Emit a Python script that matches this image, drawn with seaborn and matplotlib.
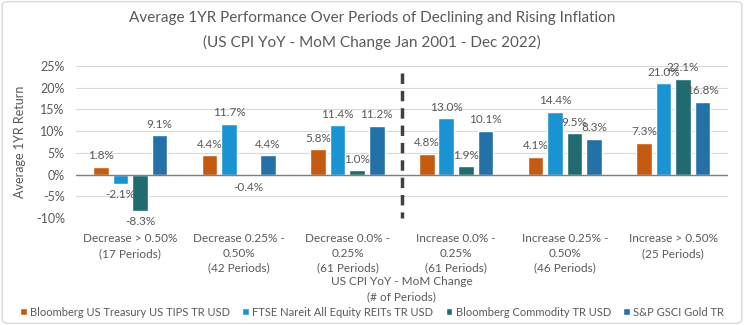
import matplotlib
matplotlib.use("Agg")
import matplotlib.pyplot as plt
import seaborn as sns
import pandas as pd
from matplotlib.patches import FancyBboxPatch

categories = [
    "Decrease > 0.50%\n(17 Periods)",
    "Decrease 0.25% -\n0.50%\n(42 Periods)",
    "Decrease 0.0% -\n0.25%\n(61 Periods)",
    "Increase 0.0% -\n0.25%\n(61 Periods)",
    "Increase 0.25% -\n0.50%\n(46 Periods)",
    "Increase > 0.50%\n(25 Periods)",
]
series_names = [
    "Bloomberg US Treasury US TIPS TR USD",
    "FTSE Nareit All Equity REITs TR USD",
    "Bloomberg Commodity TR USD",
    "S&P GSCI Gold TR",
]
tips = [1.8, 4.4, 5.8, 4.8, 4.1, 7.3]
reits = [-2.1, 11.7, 11.4, 13.0, 14.4, 21.0]
commodity = [-8.3, -0.4, 1.0, 1.9, 9.5, 22.1]
gold = [9.1, 4.4, 11.2, 10.1, 8.3, 16.8]
yticks = [-10, -5, 0, 5, 10, 15, 20, 25]
colors = ["#C55A11", "#1A93D3", "#1F6B70", "#2471A8"]

title = "Average 1YR Performance Over Periods of Declining and Rising Inflation"
subtitle = "(US CPI YoY - MoM Change Jan 2001 - Dec 2022)"
xlabel = "US CPI YoY - MoM Change\n(# of Periods)"
ylabel = "Average 1YR Return"

sns.set_theme(style="white")
plt.rcParams["font.family"] = ["Lato", "DejaVu Sans"]
grey = "#595959"

rows = []
for name, vals in zip(series_names, [tips, reits, commodity, gold]):
    for c, v in zip(categories, vals):
        rows.append({"cat": c, "series": name, "val": v})
df = pd.DataFrame(rows)

fig = plt.figure(figsize=(7.44, 3.25), dpi=100)
ax = fig.add_axes([0.102, 0.329, 0.876, 0.468])

sns.barplot(data=df, x="cat", y="val", hue="series", order=categories,
            hue_order=series_names, palette=colors, width=0.72, gap=0.2,
            ax=ax, legend=True, saturation=1)

ax.set_ylim(-10, 25)
ax.set_xlim(-0.5, 5.5)
ax.set_yticks(yticks)
ax.set_yticklabels([f"{t}%" for t in yticks], color=grey, fontsize=9)
ax.grid(axis="y", color="#D9D9D9", linewidth=0.8)
ax.set_axisbelow(True)
ax.axhline(0, color="#7F7F7F", linewidth=1.0, zorder=3)
for s in ax.spines.values():
    s.set_visible(False)
ax.tick_params(axis="y", length=0, pad=8)
ax.tick_params(axis="x", length=0, pad=11)
for lbl in ax.get_xticklabels():
    lbl.set_color(grey)
    lbl.set_fontsize(8.5)
    lbl.set_verticalalignment("top")
    lbl.set_linespacing(1.4)

ax.set_xlabel(xlabel, color=grey, fontsize=8.5, labelpad=2, linespacing=1.4)
ax.set_ylabel(ylabel, color=grey, fontsize=9, labelpad=7)

for cont, vals in zip(ax.containers, [tips, reits, commodity, gold]):
    ax.bar_label(cont, labels=[f"{v:.1f}%" for v in vals], padding=4,
                 color=grey, fontsize=8.5)

ax.plot([2.5, 2.5], [23.4, -10], color="#404040", linewidth=2.5,
        linestyle=(0, (3, 2)), clip_on=False, zorder=4)

handles, labels = ax.get_legend_handles_labels()
ax.get_legend().remove()
fig.legend(handles, labels, loc="center", bbox_to_anchor=(0.5, 0.04), ncol=4,
           frameon=False, fontsize=8.0, handlelength=0.6, handleheight=0.6,
           handletextpad=0.3, columnspacing=1.1, labelcolor=grey)

fig.text(0.5, 1 - 18 / 325, title, ha="center", va="center", fontsize=11, color=grey)
fig.text(0.5, 1 - 42 / 325, subtitle, ha="center", va="center", fontsize=11, color=grey)

border = FancyBboxPatch((0.003, 0.005), 0.994, 0.99, boxstyle="round,pad=0,rounding_size=0.01",
                        transform=fig.transFigure, fill=False, edgecolor="#D9D9D9", linewidth=1)
fig.patches.append(border)

fig.savefig("out.png", dpi=100)
